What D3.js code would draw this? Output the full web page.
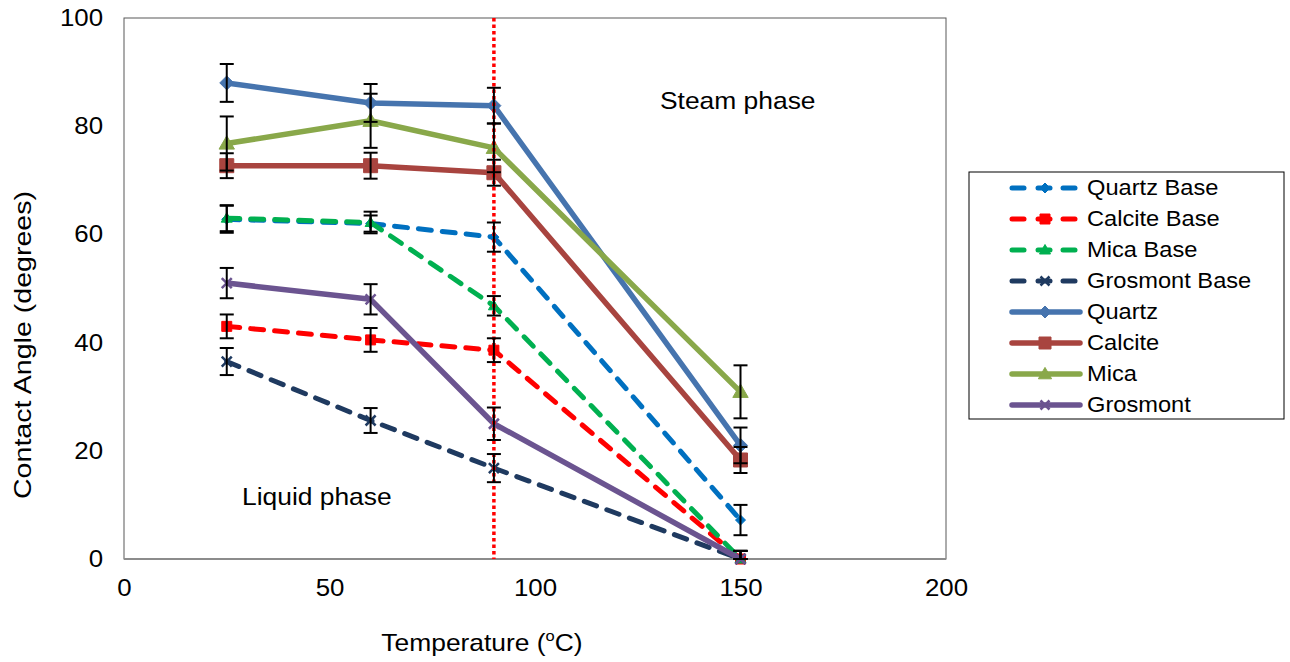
<!DOCTYPE html>
<html><head><meta charset="utf-8">
<script src="https://cdn.jsdelivr.net/npm/d3@7"></script>
<style>
body{margin:0;background:#fff;}
svg{font-family:"Liberation Sans",Arial,sans-serif;}
</style></head>
<body><svg id="c" width="1290" height="662"></svg>
<script>
const temps = [25, 60, 90, 150];
const seriesNames = ["Quartz Base","Calcite Base","Mica Base","Grosmont Base","Quartz","Calcite","Mica","Grosmont"];
const quartzBase = [62.8, 62.0, 59.5, 7.2];
const calciteBase = [43.0, 40.5, 38.6, 0];
const micaBase = [63.0, 62.2, 46.8, 0];
const grosmontBase = [36.5, 25.6, 16.8, 0];
const quartz = [88.0, 84.3, 83.8, 21.0];
const calcite = [72.7, 72.7, 71.4, 18.3];
const mica = [76.8, 81.0, 76.0, 30.9];
const grosmont = [51.0, 48.0, 25.0, 0];
const quartzBaseErr = [2.5, 1.5, 2.7, 2.8];
const calciteBaseErr = [2.2, 2.2, 2.2, 1.5];
const micaBaseErr = [2.4, 2.0, 1.8, 1.5];
const grosmontBaseErr = [2.5, 2.3, 2.6, 1.5];
const quartzErr = [3.5, 3.5, 3.3, 3.3];
const calciteErr = [2.3, 2.4, 2.4, 2.4];
const micaErr = [5.0, 5.0, 4.5, 4.9];
const grosmontErr = [2.8, 2.8, 3.0, 1.5];
const xTicks = [0, 50, 100, 150, 200];
const yTicks = [0, 20, 40, 60, 80, 100];
const phaseBoundary = 90;

const series = [
  {name: seriesNames[0], v: quartzBase, e: quartzBaseErr, color: "#0070C0", dash: true, marker: "diamond"},
  {name: seriesNames[1], v: calciteBase, e: calciteBaseErr, color: "#FF0000", dash: true, marker: "square"},
  {name: seriesNames[2], v: micaBase, e: micaBaseErr, color: "#00B050", dash: true, marker: "triangle"},
  {name: seriesNames[3], v: grosmontBase, e: grosmontBaseErr, color: "#1F3A60", dash: true, marker: "x"},
  {name: seriesNames[4], v: quartz, e: quartzErr, color: "#4674AE", dash: false, marker: "diamond"},
  {name: seriesNames[5], v: calcite, e: calciteErr, color: "#A8443F", dash: false, marker: "square"},
  {name: seriesNames[6], v: mica, e: micaErr, color: "#89A84A", dash: false, marker: "triangle"},
  {name: seriesNames[7], v: grosmont, e: grosmontErr, color: "#6B5490", dash: false, marker: "x"}
];

const SX = 1.1;
const svg = d3.select("#c");
const L = 124, R = 946, T = 18, B = 559;
const x = d3.scaleLinear().domain([0, 200]).range([L, R]);
const y = d3.scaleLinear().domain([0, 100]).range([B, T]);

function stext(px, py, size, anchor) {
  return svg.append("g").attr("transform", `translate(${px},${py}) scale(${SX},1)`)
    .append("text").attr("font-size", size).attr("text-anchor", anchor || "start").attr("fill", "#000");
}

// plot border
svg.append("rect").attr("x", L).attr("y", T).attr("width", R - L).attr("height", B - T)
  .attr("fill", "none").attr("stroke", "#595959").attr("stroke-width", 1);
svg.append("line").attr("x1", L).attr("x2", R).attr("y1", B).attr("y2", B)
  .attr("stroke", "#8c8c8c").attr("stroke-width", 2);

// axes (labels only)
const yAxis = svg.append("g").attr("transform", `translate(${L},0)`)
  .call(d3.axisLeft(y).tickValues(yTicks).tickSize(0).tickPadding(19));
yAxis.select(".domain").remove();
yAxis.selectAll("text").attr("font-size", 23.5).attr("fill", "#000")
  .attr("font-family", "Liberation Sans, Arial, sans-serif").attr("transform", `scale(${SX},1)`);
const xAxis = svg.append("g").attr("transform", `translate(0,${B})`)
  .call(d3.axisBottom(x).tickValues(xTicks).tickSize(0).tickPadding(20));
xAxis.select(".domain").remove();
xAxis.selectAll("text").attr("font-size", 23.5).attr("fill", "#000")
  .attr("font-family", "Liberation Sans, Arial, sans-serif").attr("transform", `scale(${SX},1)`);

// axis titles
svg.append("text").attr("transform", "translate(31,345) rotate(-90)")
  .attr("text-anchor", "middle").attr("font-size", 24).attr("fill", "#000")
  .attr("textLength", 308).attr("lengthAdjust", "spacingAndGlyphs").text("Contact Angle (degrees)");
const xt = stext(482, 651, 24, "middle");
xt.append("tspan").text("Temperature (");
xt.append("tspan").attr("font-size", 15).attr("dy", -10).text("o");
xt.append("tspan").attr("dy", 10).text("C)");

// phase labels
stext(660, 109, 24).text("Steam phase");
stext(242, 505, 24).text("Liquid phase");

function markerPath(type, s) {
  if (type === "diamond") return `M0,${-s}L${s},0L0,${s}L${-s},0Z`;
  if (type === "square") return `M${-s},${-s}H${s}V${s}H${-s}Z`;
  if (type === "triangle") return `M0,${-s*1.1}L${s*1.1},${s*0.8}L${-s*1.1},${s*0.8}Z`;
  return `M${-s},${-s}L${s},${s}M${s},${-s}L${-s},${s}`;
}
function drawMarker(g, type, cx, cy, s, color) {
  const p = g.append("path").attr("transform", `translate(${cx},${cy})`).attr("d", markerPath(type, s));
  if (type === "x") p.attr("fill", "none").attr("stroke", color).attr("stroke-width", 2.5);
  else p.attr("fill", color).attr("stroke", color).attr("stroke-width", 1);
}

const line = d3.line().x((d, i) => x(temps[i])).y(d => y(d));
const gl = svg.append("g");
series.forEach(s => {
  gl.append("path").datum(s.v).attr("d", line).attr("fill", "none")
    .attr("stroke", s.color).attr("stroke-width", s.dash ? 5 : 5.5)
    .attr("stroke-linecap", s.dash ? "round" : "butt").attr("stroke-linejoin", "round")
    .attr("stroke-dasharray", s.dash ? "13,11" : null);
  s.v.forEach((v, i) => drawMarker(gl, s.marker, x(temps[i]), y(v), s.marker === "x" ? 5 : (s.dash ? 5 : 7), s.color));
});

// phase boundary
svg.append("line").attr("x1", x(phaseBoundary)).attr("x2", x(phaseBoundary)).attr("y1", T).attr("y2", B)
  .attr("stroke", "#FF0000").attr("stroke-width", 3.5).attr("stroke-dasharray", "3.5,3");

// error bars
const ge = svg.append("g").attr("stroke", "#000").attr("stroke-width", 2);
series.forEach(s => {
  s.v.forEach((v, i) => {
    const cx = x(temps[i]);
    const y1 = y(v + s.e[i]), y2 = y(Math.max(v - s.e[i], 0));
    ge.append("line").attr("x1", cx).attr("x2", cx).attr("y1", y1).attr("y2", y2);
    ge.append("line").attr("x1", cx - 7).attr("x2", cx + 7).attr("y1", y1).attr("y2", y1);
    ge.append("line").attr("x1", cx - 7).attr("x2", cx + 7).attr("y1", y2).attr("y2", y2);
  });
});

// legend
const lg = svg.append("g");
lg.append("rect").attr("x", 969).attr("y", 172).attr("width", 315).attr("height", 247)
  .attr("fill", "#fff").attr("stroke", "#000").attr("stroke-width", 1);
series.forEach((s, i) => {
  const yy = 188 + i * 31;
  if (s.dash) {
    [[1012, 1024], [1038, 1050], [1063, 1075]].forEach(([a, b]) => {
      lg.append("line").attr("x1", a).attr("x2", b).attr("y1", yy).attr("y2", yy)
        .attr("stroke", s.color).attr("stroke-width", 5).attr("stroke-linecap", "round");
    });
  } else {
    lg.append("line").attr("x1", 1012).attr("x2", 1080).attr("y1", yy).attr("y2", yy)
      .attr("stroke", s.color).attr("stroke-width", 5.5).attr("stroke-linecap", "round");
  }
  drawMarker(lg, s.marker, 1045, yy, s.marker === "x" ? 4.5 : (s.dash ? 5 : 6), s.color);
  const t = lg.append("g").attr("transform", `translate(1087,${yy + 7}) scale(${SX},1)`);
  t.append("text").attr("font-size", 21.5).attr("fill", "#000").text(s.name);
});
</script></body></html>
